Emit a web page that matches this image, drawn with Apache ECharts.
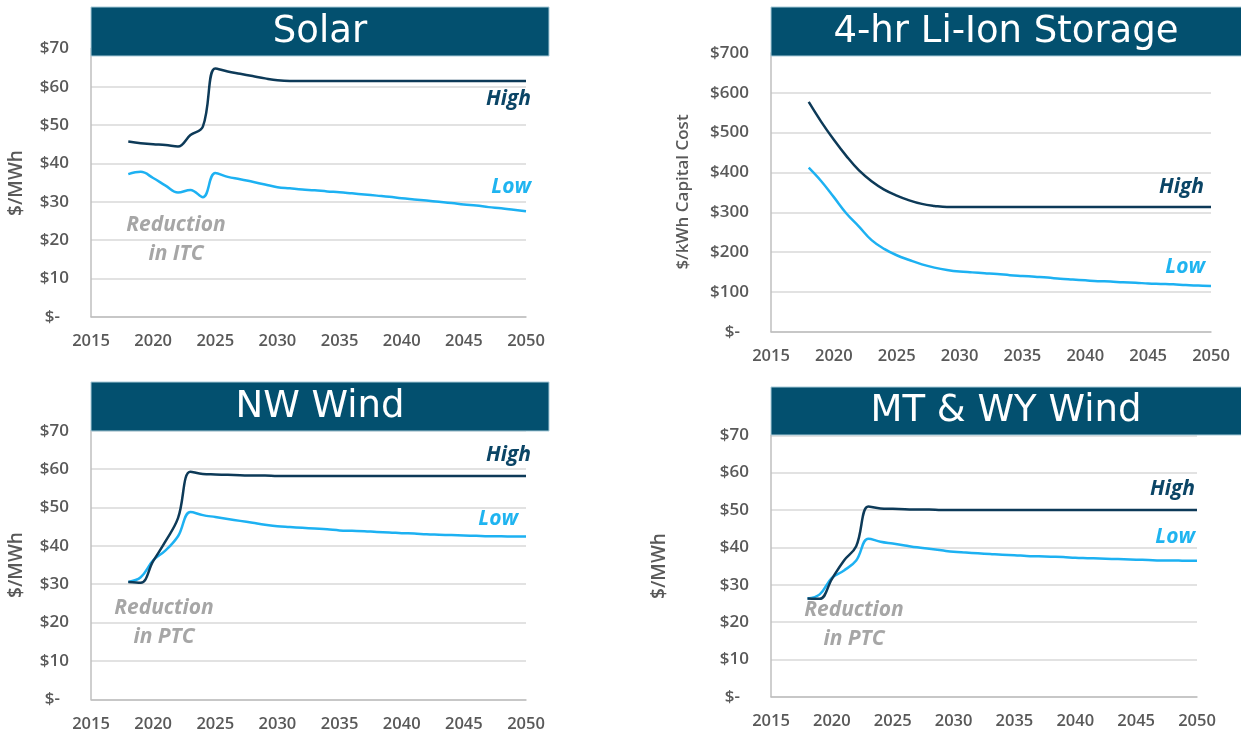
<!DOCTYPE html>
<html>
<head>
<meta charset="utf-8">
<title>Resource cost trajectories</title>
<script src="https://cdn.jsdelivr.net/npm/echarts@6/dist/echarts.min.js"></script>
<style>
  html, body { margin: 0; padding: 0; background: #fff; }
  #chart { width: 1241px; height: 734px; }
</style>
</head>
<body>
<div id="chart"></div>
<script>
// years 2018 - 2050
const years = [2018, 2019, 2020, 2021, 2022, 2023, 2024, 2025, 2026, 2027, 2028,
  2029, 2030, 2031, 2032, 2033, 2034, 2035, 2036, 2037, 2038, 2039, 2040,
  2041, 2042, 2043, 2044, 2045, 2046, 2047, 2048, 2049, 2050]

const solarHigh = [45.7, 45.3, 45.0, 44.8, 44.4, 47.4, 49.6, 64.8, 64.0, 63.4, 62.8,
  62.2, 61.7, 61.5, 61.5, 61.5, 61.5, 61.5, 61.5, 61.5, 61.5, 61.5, 61.5,
  61.5, 61.5, 61.5, 61.5, 61.5, 61.5, 61.5, 61.5, 61.5, 61.5]
const solarLow = [37.2, 37.8, 36.2, 34.2, 32.4, 33.1, 31.2, 37.5, 36.5, 35.9, 35.2,
  34.5, 33.8, 33.5, 33.2, 33.0, 32.7, 32.5, 32.2, 31.9, 31.6, 31.3, 30.9,
  30.6, 30.3, 30.0, 29.7, 29.3, 29.0, 28.6, 28.3, 27.9, 27.5]

const storageHigh = [577, 527, 482, 441, 405, 378, 357, 342, 330, 321, 316,
  313, 313, 313, 313, 313, 313, 313, 313, 313, 313, 313, 313,
  313, 313, 313, 313, 313, 313, 313, 313, 313, 313]
const storageLow = [412, 378, 338, 297, 264, 230, 208, 192, 180, 169, 161,
  155, 151, 149, 147, 145, 142, 140, 138, 136, 133, 131, 129,
  127, 126, 124, 123, 121, 120, 119, 117, 116, 115]

const nwHigh = [30.6, 30.4, 36.0, 41.2, 47.2, 59.3, 58.7, 58.6, 58.5, 58.4, 58.3,
  58.3, 58.2, 58.2, 58.2, 58.2, 58.2, 58.2, 58.2, 58.2, 58.2, 58.2, 58.2,
  58.2, 58.2, 58.2, 58.2, 58.2, 58.2, 58.2, 58.2, 58.2, 58.2]
const nwLow = [30.6, 31.8, 36.2, 38.8, 42.5, 48.8, 48.0, 47.5, 47.0, 46.5, 46.0,
  45.5, 45.1, 44.9, 44.7, 44.5, 44.3, 44.0, 43.9, 43.8, 43.6, 43.5, 43.3,
  43.2, 43.0, 42.9, 42.8, 42.7, 42.6, 42.5, 42.5, 42.4, 42.4]

const mtHigh = [26.3, 26.2, 31.5, 36.5, 40.3, 50.9, 50.4, 50.3, 50.2, 50.1, 50.1,
  50.0, 50.0, 50.0, 50.0, 50.0, 50.0, 50.0, 50.0, 50.0, 50.0, 50.0, 50.0,
  50.0, 50.0, 50.0, 50.0, 50.0, 50.0, 50.0, 50.0, 50.0, 50.0]
const mtLow = [26.3, 27.4, 31.8, 33.8, 36.5, 42.3, 41.5, 41.0, 40.5, 40.0, 39.6,
  39.2, 38.8, 38.6, 38.4, 38.2, 38.0, 37.9, 37.7, 37.6, 37.5, 37.4, 37.2,
  37.1, 37.0, 36.9, 36.8, 36.7, 36.6, 36.5, 36.5, 36.4, 36.4]

const titles = ['Solar', '4-hr Li-Ion Storage', 'NW Wind', 'MT & WY Wind']
const yNames = ['$/MWh', '$/kWh Capital Cost', '$/MWh', '$/MWh']
const yMax = [70, 700, 70, 70]
const yStep = [10, 100, 10, 10]
const notes = ['in ITC', null, 'in PTC', 'in PTC']

const HIGH = '#0d3a58'
const LOW = '#1db1f2'
const BAR = '#03506f'
const LABEL = '#595959'

// layout of the four panels (px)
const panels = [
  { grid: { left: 91, top: 48.5, width: 435, height: 268.2 }, bar: [91, 7, 458, 49], titleX: 320, titleY: 32,
    name: [17, 183, 19], high: [531, 99], low: [531, 187], note: [176, 225] },
  { grid: { left: 771, top: 53, width: 440, height: 278.7 }, bar: [771, 7, 480, 49], titleX: 1006, titleY: 32,
    name: [683, 192, 17], high: [1204, 187], low: [1205, 267], note: null },
  { grid: { left: 91, top: 430.7, width: 435, height: 268.6 }, bar: [91, 382, 458, 49], titleX: 320, titleY: 407,
    name: [17, 565, 19], high: [531, 455], low: [518, 519], note: [164, 608] },
  { grid: { left: 771, top: 435.3, width: 426, height: 261.4 }, bar: [771, 387, 480, 48], titleX: 1006, titleY: 411,
    name: [660, 566, 19], high: [1195, 489], low: [1195, 537], note: [854, 610] }
]

const seriesData = [[solarHigh, solarLow], [storageHigh, storageLow], [nwHigh, nwLow], [mtHigh, mtLow]]

const pairs = vals => years.map((y, i) => [y, vals[i]])

const chart = echarts.init(document.getElementById('chart'))

const grid = []
const xAxis = []
const yAxis = []
const series = []
const graphic = []
const tagFont = 'italic bold 21px "Open Sans"'

panels.forEach((p, i) => {
  grid.push(p.grid)
  xAxis.push({
    gridIndex: i,
    type: 'value',
    min: 2015,
    max: 2050,
    interval: 5,
    axisLine: { show: true, lineStyle: { color: '#bfbfbf', width: 1.5 } },
    axisTick: { show: false },
    splitLine: { show: false },
    axisLabel: {
      color: LABEL, fontSize: 16.5, fontWeight: 600, fontFamily: 'Open Sans', margin: 16,
      formatter: v => String(v)
    }
  })
  yAxis.push({
    gridIndex: i,
    type: 'value',
    min: 0,
    max: yMax[i],
    interval: yStep[i],
    axisLine: { show: true, lineStyle: { color: '#bfbfbf', width: 1.5 } },
    axisTick: { show: false },
    splitLine: { lineStyle: { color: '#d9d9d9', width: 1.5 } },
    axisLabel: {
      color: LABEL, fontSize: 17, fontWeight: 600, fontFamily: 'Open Sans', margin: 22,
      formatter: v => (v === 0 ? '{z|$-}' : '$' + v),
      rich: { z: { color: LABEL, fontSize: 17, fontWeight: 600, fontFamily: 'Open Sans', padding: [0, 9, 0, 0] } }
    }
  })
  const [hi, lo] = seriesData[i]
  series.push(
    { name: 'Low', type: 'line', xAxisIndex: i, yAxisIndex: i, data: pairs(lo), smooth: 0.4,
      showSymbol: false, lineStyle: { color: LOW, width: 2.5 }, itemStyle: { color: LOW } },
    { name: 'High', type: 'line', xAxisIndex: i, yAxisIndex: i, data: pairs(hi), smooth: 0.4,
      showSymbol: false, lineStyle: { color: HIGH, width: 2.5 }, itemStyle: { color: HIGH } }
  )

  // title bar
  graphic.push({
    type: 'rect', z: 100,
    shape: { x: p.bar[0], y: p.bar[1], width: p.bar[2], height: p.bar[3] },
    style: { fill: BAR, stroke: '#a9cbd9', lineWidth: 1 }
  })
  graphic.push({
    type: 'text', z: 101, x: p.titleX, y: p.titleY,
    style: { text: titles[i], fill: '#fff', font: '37px "DejaVu Sans"', align: 'center', verticalAlign: 'middle' }
  })
  // axis name
  graphic.push({
    type: 'text', z: 101, x: p.name[0], y: p.name[1], rotation: Math.PI / 2,
    style: { text: yNames[i], fill: LABEL, font: '600 ' + p.name[2] + 'px "Open Sans"', align: 'center', verticalAlign: 'middle' }
  })
  // High / Low tags
  graphic.push({
    type: 'text', z: 101, x: p.high[0], y: p.high[1],
    style: { text: 'High', fill: '#0b4566', font: tagFont, align: 'right', verticalAlign: 'middle' }
  })
  graphic.push({
    type: 'text', z: 101, x: p.low[0], y: p.low[1],
    style: { text: 'Low', fill: '#1fb4f0', font: tagFont, align: 'right', verticalAlign: 'middle' }
  })
  if (p.note) {
    graphic.push({
      type: 'text', z: 101, x: p.note[0], y: p.note[1],
      style: { text: 'Reduction', fill: '#a6a6a6', font: tagFont, align: 'center', verticalAlign: 'middle' }
    })
    graphic.push({
      type: 'text', z: 101, x: p.note[0], y: p.note[1] + 29,
      style: { text: notes[i], fill: '#a6a6a6', font: tagFont, align: 'center', verticalAlign: 'middle' }
    })
  }
})

chart.setOption({
  animation: false,
  grid,
  xAxis,
  yAxis,
  series,
  graphic
})
</script>
</body>
</html>
